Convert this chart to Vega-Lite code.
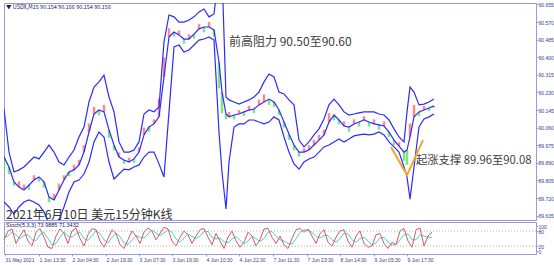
{
  "$schema": "https://vega.github.io/schema/vega-lite/v6.json",
  "padding": {"left": 1, "top": 1, "right": 0, "bottom": 0},
  "background": "white",
  "spacing": 2,
  "bounds": "flush",
  "config": {
    "view": {"stroke": "#9a9ad8", "strokeWidth": 1},
    "axis": {"labelFont": "Liberation Sans", "labelFontSize": 5, "labelColor": "#3a3a8a", "tickColor": "#9a9ad8", "domainColor": "#9a9ad8", "tickSize": 2, "grid": false, "labelPadding": 1, "labelOverlap": false}
  },
  "datasets": {
    "px": [
      {"x":0,"up":90.150,"mid":89.918,"lo":89.701,"c":89.850,"d":"d"},
      {"x":5,"up":89.942,"mid":89.870,"lo":89.677,"c":89.835,"d":"d"},
      {"x":10,"up":89.846,"mid":89.798,"lo":89.643,"c":89.780,"d":"d"},
      {"x":15,"up":89.856,"mid":89.773,"lo":89.677,"c":89.800,"d":"u"},
      {"x":20,"up":89.870,"mid":89.759,"lo":89.701,"c":89.785,"d":"u"},
      {"x":25,"up":89.894,"mid":89.783,"lo":89.711,"c":89.760,"d":"d"},
      {"x":30,"up":89.918,"mid":89.807,"lo":89.701,"c":89.830,"d":"u"},
      {"x":35,"up":89.909,"mid":89.822,"lo":89.687,"c":89.800,"d":"d"},
      {"x":40,"up":89.942,"mid":89.798,"lo":89.653,"c":89.770,"d":"d"},
      {"x":45,"up":89.976,"mid":89.725,"lo":89.595,"c":89.700,"d":"d"},
      {"x":50,"up":89.942,"mid":89.711,"lo":89.580,"c":89.740,"d":"u"},
      {"x":55,"up":89.894,"mid":89.759,"lo":89.614,"c":89.790,"d":"u"},
      {"x":60,"up":89.880,"mid":89.807,"lo":89.677,"c":89.830,"d":"u"},
      {"x":65,"up":89.918,"mid":89.846,"lo":89.749,"c":89.825,"d":"d"},
      {"x":70,"up":89.952,"mid":89.856,"lo":89.798,"c":89.880,"d":"u"},
      {"x":75,"up":90.015,"mid":89.880,"lo":89.807,"c":89.905,"d":"u"},
      {"x":80,"up":90.063,"mid":89.942,"lo":89.836,"c":89.975,"d":"u"},
      {"x":85,"up":90.184,"mid":90.039,"lo":89.894,"c":90.080,"d":"u"},
      {"x":90,"up":90.256,"mid":90.126,"lo":89.991,"c":90.160,"d":"u"},
      {"x":95,"up":90.281,"mid":90.145,"lo":90.039,"c":90.120,"d":"d"},
      {"x":100,"up":90.314,"mid":90.136,"lo":90.015,"c":90.170,"d":"u"},
      {"x":105,"up":90.208,"mid":90.049,"lo":89.894,"c":90.010,"d":"d"},
      {"x":110,"up":90.136,"mid":89.976,"lo":89.812,"c":89.950,"d":"d"},
      {"x":115,"up":89.991,"mid":89.918,"lo":89.836,"c":89.940,"d":"u"},
      {"x":120,"up":89.942,"mid":89.904,"lo":89.860,"c":89.885,"d":"d"},
      {"x":125,"up":89.942,"mid":89.894,"lo":89.856,"c":89.915,"d":"u"},
      {"x":130,"up":89.952,"mid":89.909,"lo":89.870,"c":89.890,"d":"d"},
      {"x":135,"up":89.991,"mid":89.942,"lo":89.880,"c":89.965,"d":"u"},
      {"x":140,"up":90.126,"mid":90.025,"lo":89.918,"c":90.060,"d":"u"},
      {"x":145,"up":90.145,"mid":90.063,"lo":89.942,"c":90.040,"d":"d"},
      {"x":150,"up":90.136,"mid":90.078,"lo":89.942,"c":90.100,"d":"u"},
      {"x":155,"up":90.160,"mid":90.112,"lo":89.885,"c":90.200,"d":"u"},
      {"x":160,"up":90.474,"mid":90.305,"lo":89.822,"c":90.400,"d":"u"},
      {"x":165,"up":90.604,"mid":90.498,"lo":90.136,"c":90.540,"d":"u"},
      {"x":170,"up":90.595,"mid":90.522,"lo":90.450,"c":90.500,"d":"d"},
      {"x":175,"up":90.570,"mid":90.508,"lo":90.459,"c":90.530,"d":"u"},
      {"x":180,"up":90.570,"mid":90.488,"lo":90.425,"c":90.465,"d":"d"},
      {"x":185,"up":90.580,"mid":90.488,"lo":90.435,"c":90.510,"d":"u"},
      {"x":190,"up":90.595,"mid":90.512,"lo":90.459,"c":90.490,"d":"d"},
      {"x":195,"up":90.619,"mid":90.537,"lo":90.483,"c":90.560,"d":"u"},
      {"x":200,"up":90.633,"mid":90.546,"lo":90.488,"c":90.520,"d":"d"},
      {"x":205,"up":90.595,"mid":90.546,"lo":90.498,"c":90.570,"d":"u"},
      {"x":210,"up":90.609,"mid":90.532,"lo":90.483,"c":90.500,"d":"d"},
      {"x":215,"up":90.812,"mid":90.377,"lo":90.039,"c":90.250,"d":"d"},
      {"x":218,"up":90.812,"mid":90.232,"lo":89.846,"c":90.130,"d":"d"},
      {"x":222,"up":90.208,"mid":90.126,"lo":89.667,"c":90.100,"d":"d"},
      {"x":225,"up":90.194,"mid":90.112,"lo":89.894,"c":90.135,"d":"u"},
      {"x":230,"up":90.184,"mid":90.121,"lo":90.063,"c":90.100,"d":"d"},
      {"x":235,"up":90.174,"mid":90.126,"lo":90.078,"c":90.145,"d":"u"},
      {"x":240,"up":90.184,"mid":90.136,"lo":90.078,"c":90.115,"d":"d"},
      {"x":245,"up":90.194,"mid":90.145,"lo":90.097,"c":90.165,"d":"u"},
      {"x":250,"up":90.208,"mid":90.150,"lo":90.097,"c":90.130,"d":"d"},
      {"x":255,"up":90.232,"mid":90.170,"lo":90.087,"c":90.195,"d":"u"},
      {"x":260,"up":90.281,"mid":90.184,"lo":90.078,"c":90.220,"d":"u"},
      {"x":265,"up":90.319,"mid":90.198,"lo":90.087,"c":90.170,"d":"d"},
      {"x":270,"up":90.305,"mid":90.184,"lo":90.112,"c":90.160,"d":"d"},
      {"x":275,"up":90.232,"mid":90.145,"lo":90.097,"c":90.120,"d":"d"},
      {"x":280,"up":90.223,"mid":90.087,"lo":90.015,"c":90.060,"d":"d"},
      {"x":285,"up":90.194,"mid":90.029,"lo":89.942,"c":90.000,"d":"d"},
      {"x":290,"up":90.170,"mid":89.976,"lo":89.885,"c":89.950,"d":"d"},
      {"x":295,"up":90.000,"mid":89.942,"lo":89.860,"c":89.920,"d":"d"},
      {"x":300,"up":89.967,"mid":89.942,"lo":89.894,"c":89.960,"d":"u"},
      {"x":305,"up":89.991,"mid":89.952,"lo":89.909,"c":89.975,"d":"u"},
      {"x":310,"up":90.025,"mid":89.976,"lo":89.918,"c":90.000,"d":"u"},
      {"x":315,"up":90.054,"mid":90.000,"lo":89.942,"c":90.025,"d":"u"},
      {"x":320,"up":90.102,"mid":90.025,"lo":89.967,"c":90.050,"d":"u"},
      {"x":325,"up":90.170,"mid":90.087,"lo":89.976,"c":90.130,"d":"u"},
      {"x":330,"up":90.198,"mid":90.121,"lo":89.991,"c":90.095,"d":"d"},
      {"x":335,"up":90.170,"mid":90.097,"lo":90.005,"c":90.075,"d":"d"},
      {"x":340,"up":90.136,"mid":90.068,"lo":89.991,"c":90.090,"d":"u"},
      {"x":345,"up":90.121,"mid":90.063,"lo":90.005,"c":90.040,"d":"d"},
      {"x":350,"up":90.126,"mid":90.078,"lo":90.020,"c":90.100,"d":"u"},
      {"x":355,"up":90.131,"mid":90.087,"lo":90.025,"c":90.065,"d":"d"},
      {"x":360,"up":90.136,"mid":90.097,"lo":90.029,"c":90.115,"d":"u"},
      {"x":365,"up":90.136,"mid":90.087,"lo":90.025,"c":90.065,"d":"d"},
      {"x":370,"up":90.136,"mid":90.078,"lo":90.029,"c":90.100,"d":"u"},
      {"x":375,"up":90.126,"mid":90.073,"lo":90.039,"c":90.050,"d":"d"},
      {"x":380,"up":90.121,"mid":90.068,"lo":90.025,"c":90.090,"d":"u"},
      {"x":385,"up":90.097,"mid":90.039,"lo":89.991,"c":90.015,"d":"d"},
      {"x":390,"up":90.054,"mid":90.000,"lo":89.967,"c":89.975,"d":"d"},
      {"x":395,"up":90.015,"mid":89.971,"lo":89.942,"c":89.990,"d":"u"},
      {"x":400,"up":89.991,"mid":89.942,"lo":89.870,"c":89.900,"d":"d"},
      {"x":403,"up":90.136,"mid":89.952,"lo":89.822,"c":89.880,"d":"d"},
      {"x":406,"up":90.256,"mid":90.015,"lo":89.715,"c":90.080,"d":"u"},
      {"x":410,"up":90.232,"mid":90.112,"lo":89.870,"c":90.170,"d":"u"},
      {"x":415,"up":90.170,"mid":90.136,"lo":90.063,"c":90.115,"d":"d"},
      {"x":420,"up":90.174,"mid":90.145,"lo":90.102,"c":90.165,"d":"u"},
      {"x":425,"up":90.184,"mid":90.155,"lo":90.112,"c":90.140,"d":"d"},
      {"x":430,"up":90.198,"mid":90.165,"lo":90.126,"c":90.156,"d":"d"}
    ],
    "vee": [
      {"x":387,"p":89.967},
      {"x":403,"p":89.831},
      {"x":419,"p":90.000}
    ],
    "notes": [
      {"x":225,"p":90.474,"t":"前高阻力 90.50至90.60","s":12,"c":"#404040"},
      {"x":412,"p":89.897,"t":"起涨支撑 89.96至90.08","s":11.3,"c":"#404040"},
      {"x":2,"p":89.640,"t":"2021年6月10日 美元15分钟K线","s":12,"c":"#303030"},
      {"x":2,"p":90.643,"t":"▼ USDX,M15  90.154 90.166 90.154 90.156","s":5.5,"c":"#202060"}
    ],
    "cur": [{"p": 90.156}],
    "st": [
      {"x":0,"k":45,"s":55},{"x":4,"k":80,"s":60},{"x":8,"k":88,"s":75},{"x":12,"k":30,"s":65},
      {"x":16,"k":60,"s":50},{"x":20,"k":85,"s":62},{"x":24,"k":40,"s":65},{"x":28,"k":20,"s":45},
      {"x":32,"k":75,"s":42},{"x":36,"k":90,"s":65},{"x":40,"k":55,"s":75},{"x":44,"k":15,"s":50},
      {"x":48,"k":10,"s":25},{"x":52,"k":60,"s":30},{"x":56,"k":88,"s":55},{"x":60,"k":70,"s":75},
      {"x":64,"k":30,"s":60},{"x":68,"k":80,"s":55},{"x":72,"k":92,"s":70},{"x":76,"k":50,"s":75},
      {"x":80,"k":20,"s":50},{"x":84,"k":65,"s":42},{"x":88,"k":90,"s":62},{"x":92,"k":85,"s":80},
      {"x":96,"k":40,"s":70},{"x":100,"k":15,"s":45},{"x":104,"k":50,"s":32},{"x":108,"k":85,"s":55},
      {"x":112,"k":70,"s":70},{"x":116,"k":25,"s":58},{"x":120,"k":10,"s":32},{"x":124,"k":45,"s":25},
      {"x":128,"k":80,"s":45},{"x":132,"k":60,"s":62},{"x":136,"k":30,"s":55},{"x":140,"k":75,"s":52},
      {"x":144,"k":92,"s":68},{"x":148,"k":80,"s":85},{"x":152,"k":45,"s":72},{"x":156,"k":70,"s":62},
      {"x":160,"k":95,"s":72},{"x":164,"k":88,"s":85},{"x":168,"k":40,"s":75},{"x":172,"k":20,"s":48},
      {"x":176,"k":55,"s":35},{"x":180,"k":80,"s":52},{"x":184,"k":65,"s":68},{"x":188,"k":30,"s":58},
      {"x":192,"k":60,"s":50},{"x":196,"k":85,"s":60},{"x":200,"k":90,"s":78},{"x":204,"k":55,"s":78},
      {"x":208,"k":25,"s":55},{"x":212,"k":70,"s":48},{"x":216,"k":40,"s":52},{"x":220,"k":10,"s":38},
      {"x":224,"k":55,"s":32},{"x":228,"k":80,"s":48},{"x":232,"k":40,"s":58},{"x":236,"k":15,"s":42},
      {"x":240,"k":35,"s":28},{"x":244,"k":75,"s":40},{"x":248,"k":60,"s":58},{"x":252,"k":20,"s":50},
      {"x":256,"k":45,"s":38},{"x":260,"k":88,"s":50},{"x":264,"k":90,"s":75},{"x":268,"k":55,"s":78},
      {"x":272,"k":30,"s":58},{"x":276,"k":60,"s":45},{"x":280,"k":25,"s":40},{"x":284,"k":10,"s":30},
      {"x":288,"k":50,"s":28},{"x":292,"k":85,"s":48},{"x":296,"k":90,"s":75},{"x":300,"k":75,"s":85},
      {"x":304,"k":88,"s":82},{"x":308,"k":60,"s":75},{"x":312,"k":30,"s":58},{"x":316,"k":70,"s":52},
      {"x":320,"k":85,"s":62},{"x":324,"k":35,"s":62},{"x":328,"k":20,"s":45},{"x":332,"k":55,"s":35},
      {"x":336,"k":80,"s":50},{"x":340,"k":85,"s":72},{"x":344,"k":40,"s":68},{"x":348,"k":15,"s":45},
      {"x":352,"k":60,"s":35},{"x":356,"k":80,"s":50},{"x":360,"k":30,"s":55},{"x":364,"k":15,"s":40},
      {"x":368,"k":20,"s":25},{"x":372,"k":65,"s":32},{"x":376,"k":70,"s":52},{"x":380,"k":30,"s":55},
      {"x":384,"k":10,"s":35},{"x":388,"k":35,"s":25},{"x":392,"k":25,"s":25},{"x":396,"k":80,"s":45},
      {"x":400,"k":90,"s":65},{"x":404,"k":40,"s":68},{"x":408,"k":15,"s":45},{"x":412,"k":85,"s":45},
      {"x":416,"k":92,"s":65},{"x":420,"k":20,"s":60},{"x":424,"k":60,"s":55},{"x":428,"k":75,"s":55}
    ],
    "grid": [{"v": 20}, {"v": 80}],
    "stlabel": [{"x": 2, "v": 106, "t": "Stoch(5,3,3) 73.9885 71.3432"}]
  },
  "vconcat": [
    {
      "width": 532,
      "height": 217,
      "encoding": {
        "x": {"field": "x", "type": "quantitative", "scale": {"domain": [0, 532], "nice": false, "zero": false}, "axis": null}
      },
      "layer": [
        {
          "data": {"name": "px"},
          "mark": {"type": "rule", "strokeWidth": 2.5, "opacity": 0.8, "clip": true},
          "encoding": {
            "y": {"field": "mid", "type": "quantitative", "scale": {"domain": [89.614, 90.662], "nice": false, "zero": false},
              "axis": {"orient": "right", "title": null, "tickCount": 30, "labelOverlap": false, "labelPadding": 0, "tickSize": 2, "values": [90.655, 90.570, 90.485, 90.400, 90.315, 90.230, 90.145, 90.060, 89.975, 89.890, 89.805, 89.720, 89.635], "format": ".3f"}},
            "y2": {"field": "c"},
            "color": {"field": "d", "type": "nominal", "scale": {"domain": ["u", "d"], "range": ["#ff6a6a", "#5ee05e"]}, "legend": null}
          }
        },
        {
          "data": {"name": "cur"},
          "mark": {"type": "rule", "color": "#c4c4c4", "strokeWidth": 1},
          "encoding": {"x": {"datum": 0}, "x2": {"datum": 532}, "y": {"field": "p", "type": "quantitative"}}
        },
        {
          "data": {"name": "px"},
          "mark": {"type": "line", "color": "#2b2bff", "strokeWidth": 1.2, "clip": true},
          "encoding": {"y": {"field": "up", "type": "quantitative"}}
        },
        {
          "data": {"name": "px"},
          "mark": {"type": "line", "color": "#2b2bff", "strokeWidth": 1.2, "clip": true},
          "encoding": {"y": {"field": "mid", "type": "quantitative"}}
        },
        {
          "data": {"name": "px"},
          "mark": {"type": "line", "color": "#2b2bff", "strokeWidth": 1.2, "clip": true},
          "encoding": {"y": {"field": "lo", "type": "quantitative"}}
        },
        {
          "data": {"name": "vee"},
          "mark": {"type": "line", "color": "#f5a623", "strokeWidth": 2},
          "encoding": {"y": {"field": "p", "type": "quantitative"}}
        },
        {
          "data": {"name": "notes"},
          "mark": {"type": "text", "align": "left", "baseline": "middle", "font": "Noto Sans CJK SC"},
          "encoding": {
            "y": {"field": "p", "type": "quantitative"},
            "text": {"field": "t"},
            "size": {"field": "s", "type": "quantitative", "scale": null},
            "color": {"field": "c", "type": "nominal", "scale": null}
          }
        }
      ]
    },
    {
      "width": 532,
      "height": 32,
      "layer": [
        {
          "data": {"name": "st"},
          "mark": {"type": "line", "color": "#3fd6d6", "strokeWidth": 1},
          "encoding": {
            "x": {"field": "x", "type": "quantitative", "scale": {"domain": [0, 532], "nice": false, "zero": false},
              "axis": {"orient": "bottom", "title": null, "tickCount": 30, "labelOverlap": false, "values": [1, 35, 68, 102, 135, 168, 202, 235, 269, 303, 336, 370, 403], "labelAlign": "left", "labelPadding": 1, "tickSize": 2,
                "labelExpr": "datum.value==1?'31 May 2021':datum.value==35?'1 Jun 13:30':datum.value==68?'2 Jun 04:30':datum.value==102?'2 Jun 19:30':datum.value==135?'3 Jun 07:30':datum.value==168?'3 Jun 19:30':datum.value==202?'4 Jun 10:30':datum.value==235?'4 Jun 22:30':datum.value==269?'7 Jun 11:30':datum.value==303?'7 Jun 23:30':datum.value==336?'8 Jun 14:30':datum.value==370?'9 Jun 05:30':'9 Jun 17:30'"}},
            "y": {"field": "s", "type": "quantitative", "scale": {"domain": [-12, 116], "nice": false, "zero": false},
              "axis": {"orient": "right", "title": null, "tickCount": 10, "labelOverlap": false, "labelPadding": 0, "values": [0, 20, 80, 100]}}
          }
        },
        {
          "data": {"name": "st"},
          "mark": {"type": "line", "color": "#e05555", "strokeWidth": 1},
          "encoding": {
            "x": {"field": "x", "type": "quantitative"},
            "y": {"field": "k", "type": "quantitative"}
          }
        },
        {
          "data": {"name": "grid"},
          "mark": {"type": "rule", "color": "#b0b0b0", "strokeDash": [1, 2], "strokeWidth": 1},
          "encoding": {
            "y": {"field": "v", "type": "quantitative"}
          }
        },
        {
          "data": {"name": "stlabel"},
          "mark": {"type": "text", "align": "left", "baseline": "middle", "fontSize": 5.5, "color": "#202060", "font": "Liberation Sans"},
          "encoding": {
            "x": {"field": "x", "type": "quantitative"},
            "y": {"field": "v", "type": "quantitative"},
            "text": {"field": "t"}
          }
        }
      ]
    }
  ]
}
